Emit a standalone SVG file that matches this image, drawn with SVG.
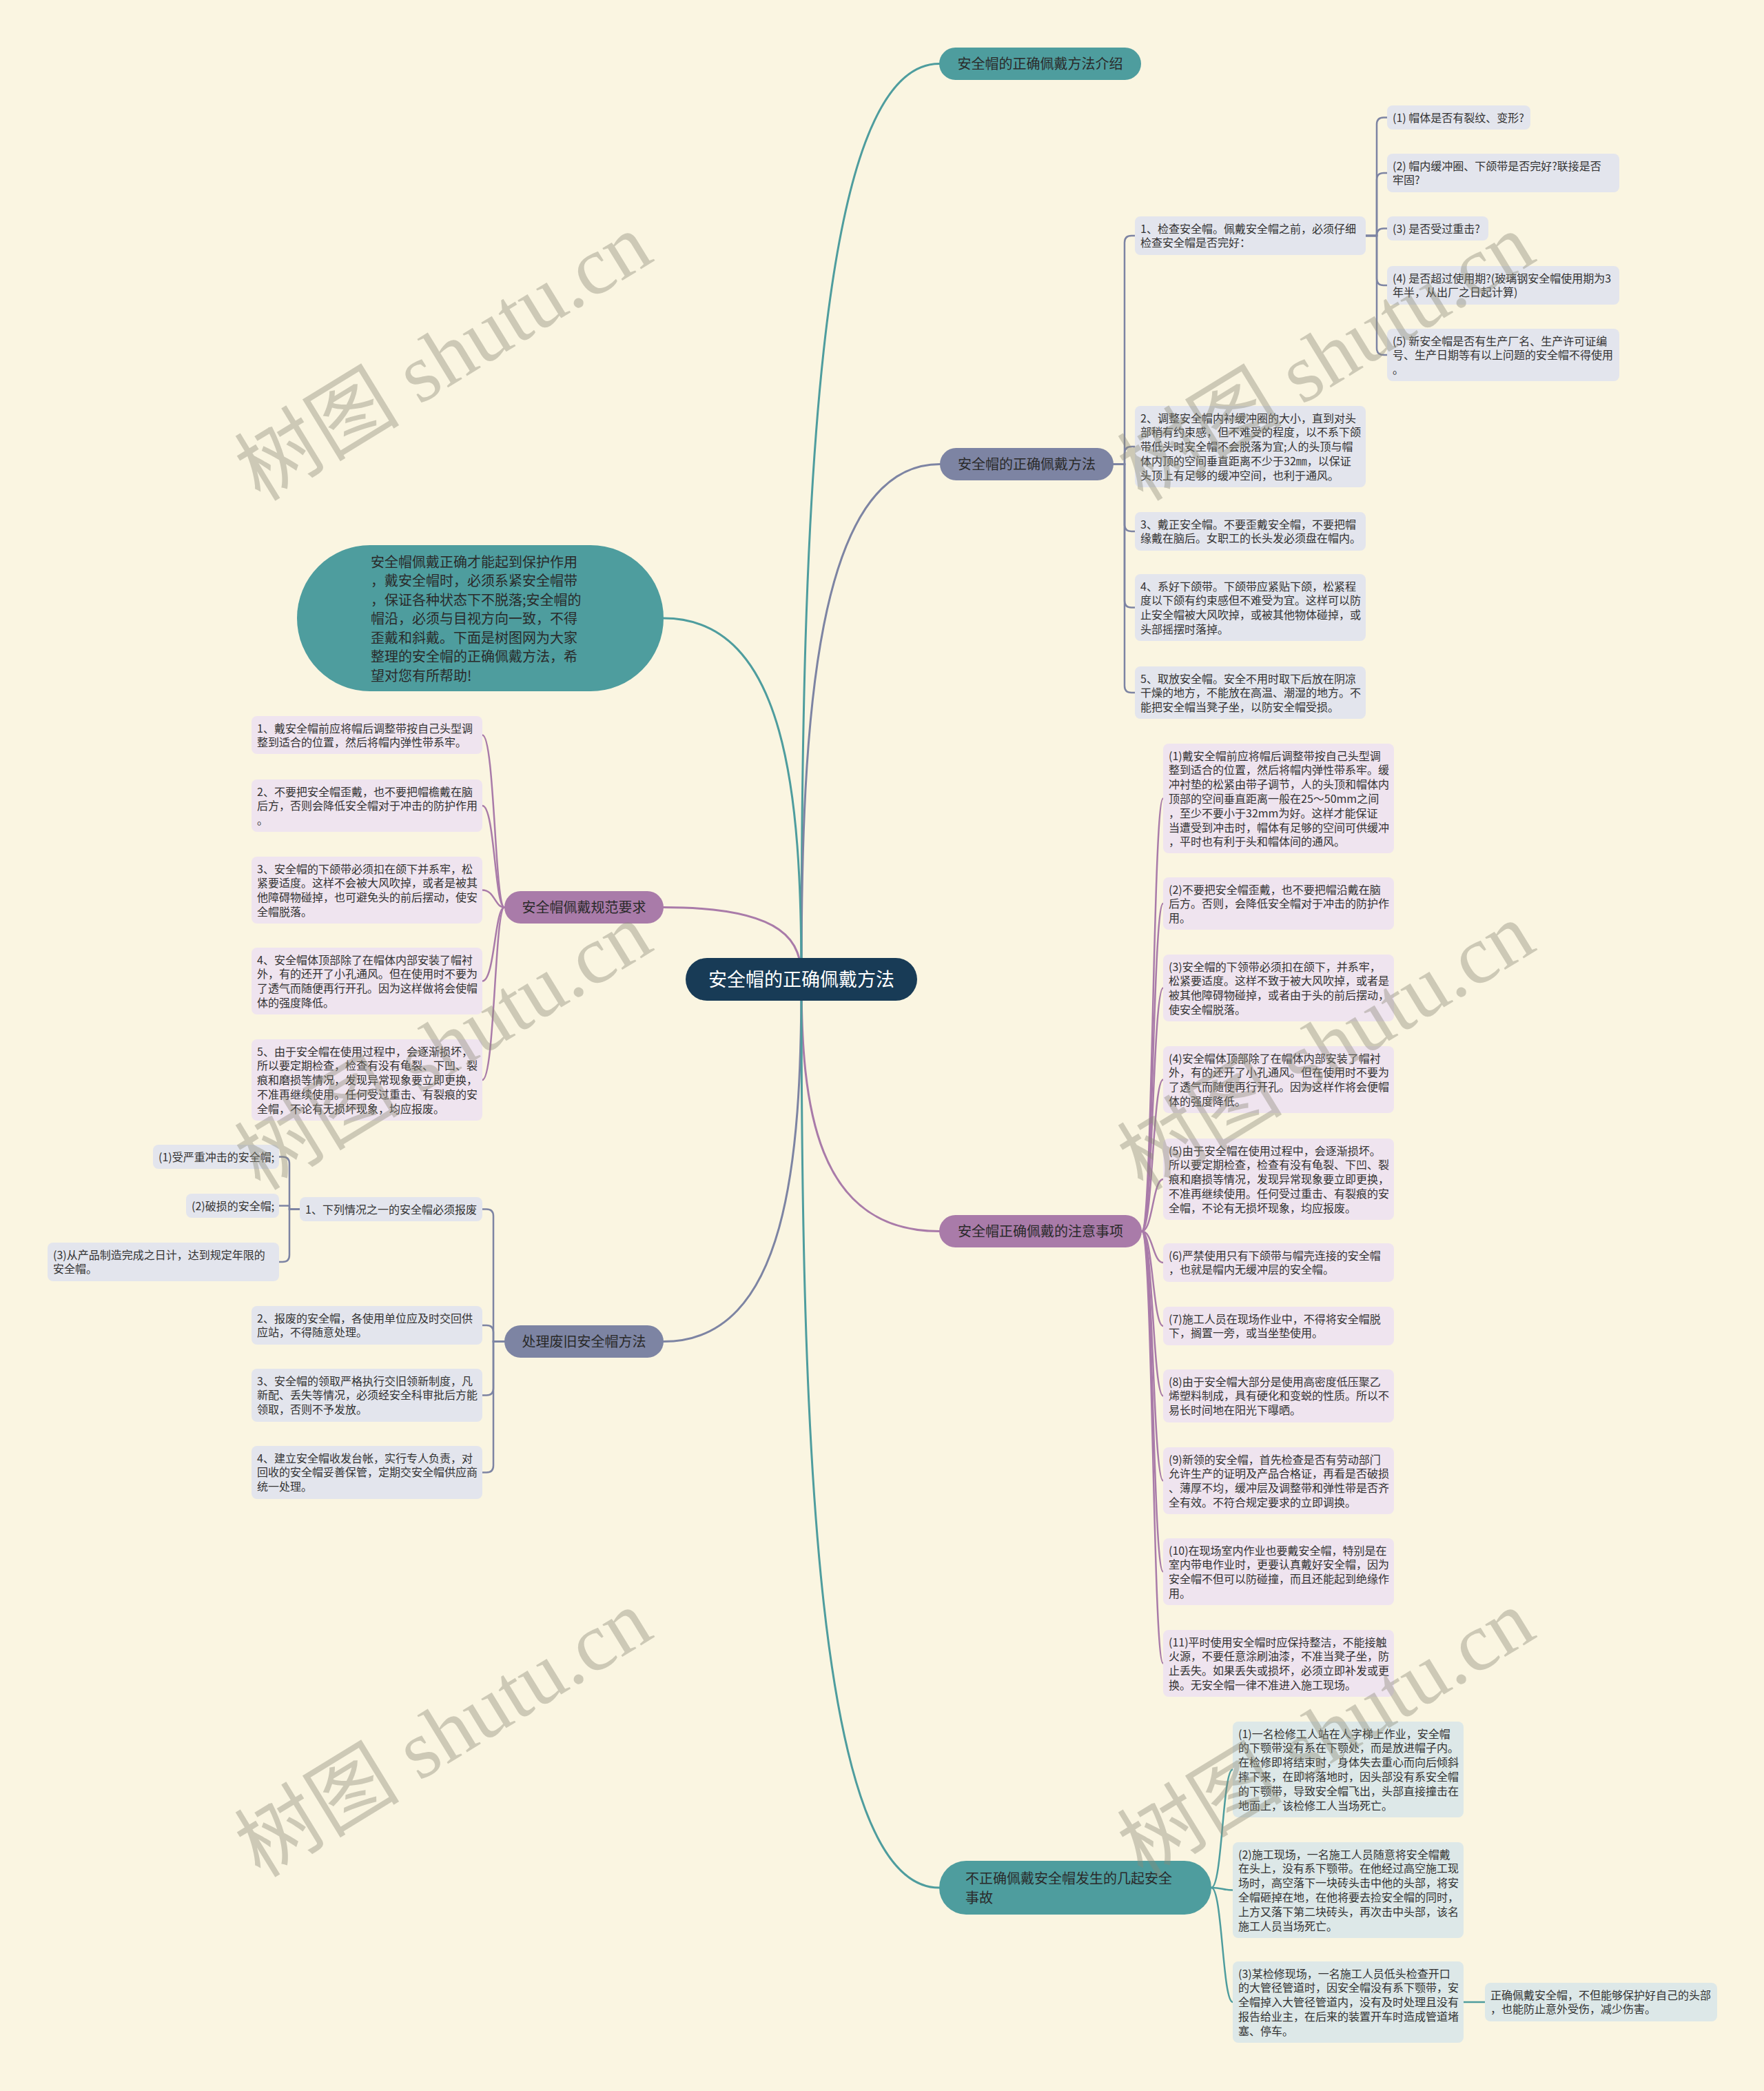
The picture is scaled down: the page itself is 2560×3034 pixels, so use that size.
<svg xmlns="http://www.w3.org/2000/svg" width="2560" height="3034" viewBox="0 0 2560 3034">
<style>
text{font-family:"Noto Sans CJK SC","Noto Sans",sans-serif;fill:#333;}
.t{font-size:16px;}
.tb{font-size:20px;fill:#2a2a2a;}
.tc{font-size:27px;fill:#fff;}
.n-te{fill:#4e9d9e;}
.n-gb{fill:#7d84a3;}
.n-pu{fill:#a97ba9;}
.c-te{fill:#dde8e8;}
.c-gb{fill:#e3e5ed;}
.c-pu{fill:#efe4ef;}
.l{fill:none;stroke-width:2.5;stroke-linecap:round;}
.lm{fill:none;stroke-width:3;stroke-linecap:round;}
.s-te{stroke:#4e9d9e;}
.s-gb{stroke:#7d84a3;}
.s-pu{stroke:#a97ba9;}
.wm{font-family:"Liberation Serif","Noto Sans CJK SC",serif;font-size:120px;fill:#8c8a78;opacity:0.4;}
</style>
<rect x="0" y="0" width="2560" height="3034" fill="#faf5e1"/>

<g id="connectors">
  <!-- main -->
  <path class="lm s-te" d="M1163 1420 C1163 756 1183 92.5 1363 92.5"/>
  <path class="lm s-gb" d="M1163 1420 C1163 1047 1183 673.5 1364 673.5"/>
  <path class="lm s-te" d="M1163 1420 C1163 1158 1143 897 963 897"/>
  <path class="lm s-pu" d="M1163 1420 C1163 1368 1143 1316.5 963 1316.5"/>
  <path class="lm s-pu" d="M1163 1420 C1163 1603 1183 1786.5 1363 1786.5"/>
  <path class="lm s-gb" d="M1163 1420 C1163 1683 1143 1946.5 963 1946.5"/>
  <path class="lm s-te" d="M1163 1420 C1163 2080 1183 2739 1363 2739"/>
  <!-- branch 2 -->
  <path class="l s-gb" d="M1616 673.5 H1632 V352 Q1632 342 1642 342 H1647"/>
  <path class="l s-gb" d="M1616 673.5 H1632 V658 Q1632 648 1642 648 H1647"/>
  <path class="l s-gb" d="M1616 673.5 H1632 V761 Q1632 771 1642 771 H1647"/>
  <path class="l s-gb" d="M1616 673.5 H1632 V871.5 Q1632 881.5 1642 881.5 H1647"/>
  <path class="l s-gb" d="M1616 673.5 H1632 V995 Q1632 1005 1642 1005 H1647"/>
  <!-- sub of 1 -->
  <path class="l s-gb" d="M1982 342 H1998 V180.5 Q1998 170.5 2008 170.5 H2013"/>
  <path class="l s-gb" d="M1982 342 H1998 V261 Q1998 251 2008 251 H2013"/>
  <path class="l s-gb" d="M1982 342 H1998 V341.5 Q1998 331.5 2008 331.5 H2013"/>
  <path class="l s-gb" d="M1982 342 H1998 V404 Q1998 414 2008 414 H2013"/>
  <path class="l s-gb" d="M1982 342 H1998 V505 Q1998 515 2008 515 H2013"/>
  <!-- 规范要求 -->
  <path class="l s-pu" d="M732 1316.5 C718 1316.5 718 1066.5 700 1066.5"/>
  <path class="l s-pu" d="M732 1316.5 C718 1316.5 718 1169 700 1169"/>
  <path class="l s-pu" d="M732 1316.5 C718 1316.5 718 1291.5 700 1291.5"/>
  <path class="l s-pu" d="M732 1316.5 C718 1316.5 718 1423.5 700 1423.5"/>
  <path class="l s-pu" d="M732 1316.5 C718 1316.5 718 1567 700 1567"/>
  <!-- 注意事项 -->
  <path class="l s-pu" d="M1657 1786.5 C1673 1786.5 1673 1158.5 1688 1158.5"/>
  <path class="l s-pu" d="M1657 1786.5 C1673 1786.5 1673 1311 1688 1311"/>
  <path class="l s-pu" d="M1657 1786.5 C1673 1786.5 1673 1433.5 1688 1433.5"/>
  <path class="l s-pu" d="M1657 1786.5 C1673 1786.5 1673 1566.5 1688 1566.5"/>
  <path class="l s-pu" d="M1657 1786.5 C1673 1786.5 1673 1711 1688 1711"/>
  <path class="l s-pu" d="M1657 1786.5 C1673 1786.5 1673 1832 1688 1832"/>
  <path class="l s-pu" d="M1657 1786.5 C1673 1786.5 1673 1924 1688 1924"/>
  <path class="l s-pu" d="M1657 1786.5 C1673 1786.5 1673 2025.5 1688 2025.5"/>
  <path class="l s-pu" d="M1657 1786.5 C1673 1786.5 1673 2148.5 1688 2148.5"/>
  <path class="l s-pu" d="M1657 1786.5 C1673 1786.5 1673 2280.5 1688 2280.5"/>
  <path class="l s-pu" d="M1657 1786.5 C1673 1786.5 1673 2413.5 1688 2413.5"/>
  <!-- 处理废旧 -->
  <path class="l s-gb" d="M732 1946.5 H716 V1764.5 Q716 1754.5 706 1754.5 H700"/>
  <path class="l s-gb" d="M732 1946.5 H716 V1933 Q716 1923 706 1923 H700"/>
  <path class="l s-gb" d="M732 1946.5 H716 V2014.5 Q716 2024.5 706 2024.5 H700"/>
  <path class="l s-gb" d="M732 1946.5 H716 V2126.5 Q716 2136.5 706 2136.5 H700"/>
  <path class="l s-gb" d="M435 1754.5 H420 V1688.5 Q420 1678.5 410 1678.5 H405"/>
  <path class="l s-gb" d="M435 1754.5 H420 V1749.5 H405"/>
  <path class="l s-gb" d="M435 1754.5 H420 V1821 Q420 1831 410 1831 H405"/>
  <!-- 不正确 -->
  <path class="l s-te" d="M1758 2739 C1774 2739 1774 2567.5 1789 2567.5"/>
  <path class="l s-te" d="M1758 2739 C1774 2739 1774 2742.5 1789 2742.5"/>
  <path class="l s-te" d="M1758 2739 C1774 2739 1774 2905 1789 2905"/>
  <path class="l s-te" d="M2124 2905 H2155"/>
</g>

<g id="central">
  <rect x="995" y="1390" width="336" height="62" rx="31" fill="#183b56"/>
  <text class="tc" x="1163" y="1431" text-anchor="middle">安全帽的正确佩戴方法</text>
</g>

<g id="b1">
  <rect class="n-te" x="1363" y="69" width="293" height="47" rx="23.5"/>
  <text class="tb" x="1509.5" y="100" text-anchor="middle">安全帽的正确佩戴方法介绍</text>
</g>

<g id="intro">
  <rect class="n-te" x="431" y="791" width="532" height="212" rx="106"/>
  <text class="tb">
    <tspan x="538" y="822.6">安全帽佩戴正确才能起到保护作用</tspan>
    <tspan x="538" y="850.1">，戴安全帽时，必须系紧安全帽带</tspan>
    <tspan x="538" y="877.6">，保证各种状态下不脱落;安全帽的</tspan>
    <tspan x="538" y="905.1">帽沿，必须与目视方向一致，不得</tspan>
    <tspan x="538" y="932.6">歪戴和斜戴。下面是树图网为大家</tspan>
    <tspan x="538" y="960.1">整理的安全帽的正确佩戴方法，希</tspan>
    <tspan x="538" y="987.6">望对您有所帮助!</tspan>
  </text>
</g>

<g id="b2">
  <rect class="n-gb" x="1364" y="650" width="252" height="47" rx="23.5"/>
  <text class="tb" x="1490" y="681" text-anchor="middle">安全帽的正确佩戴方法</text>
</g>
<g id="b2-1">
  <rect class="c-gb" x="1647" y="314" width="335" height="56" rx="8"/>
  <text class="t"><tspan x="1655" y="337.5">1、检查安全帽。佩戴安全帽之前，必须仔细</tspan><tspan x="1655" y="358.3">检查安全帽是否完好：</tspan></text>
</g>
<g id="b2-1-1">
  <rect class="c-gb" x="2013" y="153" width="208" height="35" rx="8"/>
  <text class="t" x="2021" y="176.5">(1) 帽体是否有裂纹、变形?</text>
</g>
<g id="b2-1-2">
  <rect class="c-gb" x="2013" y="223" width="337" height="56" rx="8"/>
  <text class="t"><tspan x="2021" y="246.5">(2) 帽内缓冲圈、下颌带是否完好?联接是否</tspan><tspan x="2021" y="267.3">牢固?</tspan></text>
</g>
<g id="b2-1-3">
  <rect class="c-gb" x="2013" y="314" width="147" height="35" rx="8"/>
  <text class="t" x="2021" y="337.5">(3) 是否受过重击?</text>
</g>
<g id="b2-1-4">
  <rect class="c-gb" x="2013" y="386" width="337" height="56" rx="8"/>
  <text class="t"><tspan x="2021" y="409.5">(4) 是否超过使用期?(玻璃钢安全帽使用期为3</tspan><tspan x="2021" y="430.3">年半，从出厂之日起计算)</tspan></text>
</g>
<g id="b2-1-5">
  <rect class="c-gb" x="2013" y="477" width="337" height="76" rx="8"/>
  <text class="t"><tspan x="2021" y="500.5">(5) 新安全帽是否有生产厂名、生产许可证编</tspan><tspan x="2021" y="521.3">号、生产日期等有以上问题的安全帽不得使用</tspan><tspan x="2021" y="542.1">。</tspan></text>
</g>
<g id="b2-2">
  <rect class="c-gb" x="1647" y="589" width="335" height="118" rx="8"/>
  <text class="t"><tspan x="1655" y="612.5">2、调整安全帽内衬缓冲圈的大小，直到对头</tspan><tspan x="1655" y="633.3">部稍有约束感，但不难受的程度，以不系下颌</tspan><tspan x="1655" y="654.1">带低头时安全帽不会脱落为宜;人的头顶与帽</tspan><tspan x="1655" y="674.9">体内顶的空间垂直距离不少于32㎜，以保证</tspan><tspan x="1655" y="695.7">头顶上有足够的缓冲空间，也利于通风。</tspan></text>
</g>
<g id="b2-3">
  <rect class="c-gb" x="1647" y="743" width="335" height="56" rx="8"/>
  <text class="t"><tspan x="1655" y="766.5">3、戴正安全帽。不要歪戴安全帽，不要把帽</tspan><tspan x="1655" y="787.3">缘戴在脑后。女职工的长头发必须盘在帽内。</tspan></text>
</g>
<g id="b2-4">
  <rect class="c-gb" x="1647" y="833" width="335" height="97" rx="8"/>
  <text class="t"><tspan x="1655" y="856.5">4、系好下颌带。下颌带应紧贴下颌，松紧程</tspan><tspan x="1655" y="877.3">度以下颌有约束感但不难受为宜。这样可以防</tspan><tspan x="1655" y="898.1">止安全帽被大风吹掉，或被其他物体碰掉，或</tspan><tspan x="1655" y="918.9">头部摇摆时落掉。</tspan></text>
</g>
<g id="b2-5">
  <rect class="c-gb" x="1647" y="967" width="335" height="76" rx="8"/>
  <text class="t"><tspan x="1655" y="990.5">5、取放安全帽。安全不用时取下后放在阴凉</tspan><tspan x="1655" y="1011.3">干燥的地方，不能放在高温、潮湿的地方。不</tspan><tspan x="1655" y="1032.1">能把安全帽当凳子坐，以防安全帽受损。</tspan></text>
</g>

<g id="b3">
  <rect class="n-pu" x="732" y="1293" width="231" height="47" rx="23.5"/>
  <text class="tb" x="847.5" y="1324" text-anchor="middle">安全帽佩戴规范要求</text>
</g>
<g id="b3-1">
  <rect class="c-pu" x="365" y="1039" width="335" height="55" rx="8"/>
  <text class="t"><tspan x="373" y="1062.5">1、戴安全帽前应将帽后调整带按自己头型调</tspan><tspan x="373" y="1083.3">整到适合的位置，然后将帽内弹性带系牢。</tspan></text>
</g>
<g id="b3-2">
  <rect class="c-pu" x="365" y="1131" width="335" height="76" rx="8"/>
  <text class="t"><tspan x="373" y="1154.5">2、不要把安全帽歪戴，也不要把帽檐戴在脑</tspan><tspan x="373" y="1175.3">后方，否则会降低安全帽对于冲击的防护作用</tspan><tspan x="373" y="1196.1">。</tspan></text>
</g>
<g id="b3-3">
  <rect class="c-pu" x="365" y="1243" width="335" height="97" rx="8"/>
  <text class="t"><tspan x="373" y="1266.5">3、安全帽的下颌带必须扣在颌下并系牢，松</tspan><tspan x="373" y="1287.3">紧要适度。这样不会被大风吹掉，或者是被其</tspan><tspan x="373" y="1308.1">他障碍物碰掉，也可避免头的前后摆动，使安</tspan><tspan x="373" y="1328.9">全帽脱落。</tspan></text>
</g>
<g id="b3-4">
  <rect class="c-pu" x="365" y="1375" width="335" height="97" rx="8"/>
  <text class="t"><tspan x="373" y="1398.5">4、安全帽体顶部除了在帽体内部安装了帽衬</tspan><tspan x="373" y="1419.3">外，有的还开了小孔通风。但在使用时不要为</tspan><tspan x="373" y="1440.1">了透气而随便再行开孔。因为这样做将会使帽</tspan><tspan x="373" y="1460.9">体的强度降低。</tspan></text>
</g>
<g id="b3-5">
  <rect class="c-pu" x="365" y="1508" width="335" height="118" rx="8"/>
  <text class="t"><tspan x="373" y="1531.5">5、由于安全帽在使用过程中，会逐渐损坏，</tspan><tspan x="373" y="1552.3">所以要定期检查，检查有没有龟裂、下凹、裂</tspan><tspan x="373" y="1573.1">痕和磨损等情况，发现异常现象要立即更换，</tspan><tspan x="373" y="1593.9">不准再继续使用。任何受过重击、有裂痕的安</tspan><tspan x="373" y="1614.7">全帽，不论有无损坏现象，均应报废。</tspan></text>
</g>

<g id="b4">
  <rect class="n-pu" x="1363" y="1763" width="294" height="47" rx="23.5"/>
  <text class="tb" x="1510" y="1794" text-anchor="middle">安全帽正确佩戴的注意事项</text>
</g>
<g id="b4-1">
  <rect class="c-pu" x="1688" y="1079" width="335" height="159" rx="8"/>
  <text class="t"><tspan x="1696" y="1102.5">(1)戴安全帽前应将帽后调整带按自己头型调</tspan><tspan x="1696" y="1123.3">整到适合的位置，然后将帽内弹性带系牢。缓</tspan><tspan x="1696" y="1144.1">冲衬垫的松紧由带子调节，人的头顶和帽体内</tspan><tspan x="1696" y="1164.9">顶部的空间垂直距离一般在25～50mm之间</tspan><tspan x="1696" y="1185.7">，至少不要小于32mm为好。这样才能保证</tspan><tspan x="1696" y="1206.5">当遭受到冲击时，帽体有足够的空间可供缓冲</tspan><tspan x="1696" y="1227.3">，平时也有利于头和帽体间的通风。</tspan></text>
</g>
<g id="b4-2">
  <rect class="c-pu" x="1688" y="1273" width="335" height="76" rx="8"/>
  <text class="t"><tspan x="1696" y="1296.5">(2)不要把安全帽歪戴，也不要把帽沿戴在脑</tspan><tspan x="1696" y="1317.3">后方。否则，会降低安全帽对于冲击的防护作</tspan><tspan x="1696" y="1338.1">用。</tspan></text>
</g>
<g id="b4-3">
  <rect class="c-pu" x="1688" y="1385" width="335" height="97" rx="8"/>
  <text class="t"><tspan x="1696" y="1408.5">(3)安全帽的下领带必须扣在颌下，并系牢，</tspan><tspan x="1696" y="1429.3">松紧要适度。这样不致于被大风吹掉，或者是</tspan><tspan x="1696" y="1450.1">被其他障碍物碰掉，或者由于头的前后摆动，</tspan><tspan x="1696" y="1470.9">使安全帽脱落。</tspan></text>
</g>
<g id="b4-4">
  <rect class="c-pu" x="1688" y="1518" width="335" height="97" rx="8"/>
  <text class="t"><tspan x="1696" y="1541.5">(4)安全帽体顶部除了在帽体内部安装了帽衬</tspan><tspan x="1696" y="1562.3">外，有的还开了小孔通风。但在使用时不要为</tspan><tspan x="1696" y="1583.1">了透气而随便再行开孔。因为这样作将会便帽</tspan><tspan x="1696" y="1603.9">体的强度降低。</tspan></text>
</g>
<g id="b4-5">
  <rect class="c-pu" x="1688" y="1652" width="335" height="118" rx="8"/>
  <text class="t"><tspan x="1696" y="1675.5">(5)由于安全帽在使用过程中，会逐渐损坏。</tspan><tspan x="1696" y="1696.3">所以要定期检查，检查有没有龟裂、下凹、裂</tspan><tspan x="1696" y="1717.1">痕和磨损等情况，发现异常现象要立即更换，</tspan><tspan x="1696" y="1737.9">不准再继续使用。任何受过重击、有裂痕的安</tspan><tspan x="1696" y="1758.7">全帽，不论有无损坏现象，均应报废。</tspan></text>
</g>
<g id="b4-6">
  <rect class="c-pu" x="1688" y="1804" width="335" height="56" rx="8"/>
  <text class="t"><tspan x="1696" y="1827.5">(6)严禁使用只有下颌带与帽壳连接的安全帽</tspan><tspan x="1696" y="1848.3">，也就是帽内无缓冲层的安全帽。</tspan></text>
</g>
<g id="b4-7">
  <rect class="c-pu" x="1688" y="1896" width="335" height="56" rx="8"/>
  <text class="t"><tspan x="1696" y="1919.5">(7)施工人员在现场作业中，不得将安全帽脱</tspan><tspan x="1696" y="1940.3">下，搁置一旁，或当坐垫使用。</tspan></text>
</g>
<g id="b4-8">
  <rect class="c-pu" x="1688" y="1987" width="335" height="77" rx="8"/>
  <text class="t"><tspan x="1696" y="2010.5">(8)由于安全帽大部分是使用高密度低压聚乙</tspan><tspan x="1696" y="2031.3">烯塑料制成，具有硬化和变蜕的性质。所以不</tspan><tspan x="1696" y="2052.1">易长时间地在阳光下曝晒。</tspan></text>
</g>
<g id="b4-9">
  <rect class="c-pu" x="1688" y="2100" width="335" height="97" rx="8"/>
  <text class="t"><tspan x="1696" y="2123.5">(9)新领的安全帽，首先检查是否有劳动部门</tspan><tspan x="1696" y="2144.3">允许生产的证明及产品合格证，再看是否破损</tspan><tspan x="1696" y="2165.1">、薄厚不均，缓冲层及调整带和弹性带是否齐</tspan><tspan x="1696" y="2185.9">全有效。不符合规定要求的立即调换。</tspan></text>
</g>
<g id="b4-10">
  <rect class="c-pu" x="1688" y="2232" width="335" height="97" rx="8"/>
  <text class="t"><tspan x="1696" y="2255.5">(10)在现场室内作业也要戴安全帽，特别是在</tspan><tspan x="1696" y="2276.3">室内带电作业时，更要认真戴好安全帽，因为</tspan><tspan x="1696" y="2297.1">安全帽不但可以防碰撞，而且还能起到绝缘作</tspan><tspan x="1696" y="2317.9">用。</tspan></text>
</g>
<g id="b4-11">
  <rect class="c-pu" x="1688" y="2365" width="335" height="97" rx="8"/>
  <text class="t"><tspan x="1696" y="2388.5">(11)平时使用安全帽时应保持整洁，不能接触</tspan><tspan x="1696" y="2409.3">火源，不要任意涂刷油漆，不准当凳子坐，防</tspan><tspan x="1696" y="2430.1">止丢失。如果丢失或损坏，必须立即补发或更</tspan><tspan x="1696" y="2450.9">换。无安全帽一律不准进入施工现场。</tspan></text>
</g>

<g id="b5">
  <rect class="n-gb" x="732" y="1923" width="231" height="47" rx="23.5"/>
  <text class="tb" x="847.5" y="1954" text-anchor="middle">处理废旧安全帽方法</text>
</g>
<g id="b5-1">
  <rect class="c-gb" x="435" y="1737" width="265" height="35" rx="8"/>
  <text class="t" x="443" y="1760.5">1、下列情况之一的安全帽必须报废</text>
</g>
<g id="b5-1-1">
  <rect class="c-gb" x="222" y="1661" width="183" height="35" rx="8"/>
  <text class="t" x="230" y="1684.5">(1)受严重冲击的安全帽;</text>
</g>
<g id="b5-1-2">
  <rect class="c-gb" x="270" y="1732" width="135" height="35" rx="8"/>
  <text class="t" x="278" y="1755.5">(2)破损的安全帽;</text>
</g>
<g id="b5-1-3">
  <rect class="c-gb" x="69" y="1803" width="336" height="56" rx="8"/>
  <text class="t"><tspan x="77" y="1826.5">(3)从产品制造完成之日计，达到规定年限的</tspan><tspan x="77" y="1847.3">安全帽。</tspan></text>
</g>
<g id="b5-2">
  <rect class="c-gb" x="365" y="1895" width="335" height="56" rx="8"/>
  <text class="t"><tspan x="373" y="1918.5">2、报废的安全帽，各使用单位应及时交回供</tspan><tspan x="373" y="1939.3">应站，不得随意处理。</tspan></text>
</g>
<g id="b5-3">
  <rect class="c-gb" x="365" y="1986" width="335" height="77" rx="8"/>
  <text class="t"><tspan x="373" y="2009.5">3、安全帽的领取严格执行交旧领新制度，凡</tspan><tspan x="373" y="2030.3">新配、丢失等情况，必须经安全科审批后方能</tspan><tspan x="373" y="2051.1">领取，否则不予发放。</tspan></text>
</g>
<g id="b5-4">
  <rect class="c-gb" x="365" y="2098" width="335" height="77" rx="8"/>
  <text class="t"><tspan x="373" y="2121.5">4、建立安全帽收发台帐，实行专人负责，对</tspan><tspan x="373" y="2142.3">回收的安全帽妥善保管，定期交安全帽供应商</tspan><tspan x="373" y="2163.1">统一处理。</tspan></text>
</g>

<g id="b6">
  <rect class="n-te" x="1363" y="2700" width="395" height="78" rx="39"/>
  <text class="tb"><tspan x="1401" y="2732.6">不正确佩戴安全帽发生的几起安全</tspan><tspan x="1401" y="2760.6">事故</tspan></text>
</g>
<g id="b6-1">
  <rect class="c-te" x="1789" y="2498" width="335" height="139" rx="8"/>
  <text class="t"><tspan x="1797" y="2521.5">(1)一名检修工人站在人字梯上作业，安全帽</tspan><tspan x="1797" y="2542.3">的下颚带没有系在下颚处，而是放进帽子内。</tspan><tspan x="1797" y="2563.1">在检修即将结束时，身体失去重心而向后倾斜</tspan><tspan x="1797" y="2583.9">摔下来，在即将落地时，因头部没有系安全帽</tspan><tspan x="1797" y="2604.7">的下颚带，导致安全帽飞出，头部直接撞击在</tspan><tspan x="1797" y="2625.5">地面上，该检修工人当场死亡。</tspan></text>
</g>
<g id="b6-2">
  <rect class="c-te" x="1789" y="2673" width="335" height="139" rx="8"/>
  <text class="t"><tspan x="1797" y="2696.5">(2)施工现场，一名施工人员随意将安全帽戴</tspan><tspan x="1797" y="2717.3">在头上，没有系下颚带。在他经过高空施工现</tspan><tspan x="1797" y="2738.1">场时，高空落下一块砖头击中他的头部，将安</tspan><tspan x="1797" y="2758.9">全帽砸掉在地，在他将要去捡安全帽的同时，</tspan><tspan x="1797" y="2779.7">上方又落下第二块砖头，再次击中头部，该名</tspan><tspan x="1797" y="2800.5">施工人员当场死亡。</tspan></text>
</g>
<g id="b6-3">
  <rect class="c-te" x="1789" y="2846" width="335" height="118" rx="8"/>
  <text class="t"><tspan x="1797" y="2869.5">(3)某检修现场，一名施工人员低头检查开口</tspan><tspan x="1797" y="2890.3">的大管径管道时，因安全帽没有系下颚带，安</tspan><tspan x="1797" y="2911.1">全帽掉入大管径管道内，没有及时处理且没有</tspan><tspan x="1797" y="2931.9">报告给业主，在后来的装置开车时造成管道堵</tspan><tspan x="1797" y="2952.7">塞、停车。</tspan></text>
</g>
<g id="b6-3-1">
  <rect class="c-te" x="2155" y="2877" width="337" height="56" rx="8"/>
  <text class="t"><tspan x="2163" y="2900.5">正确佩戴安全帽，不但能够保护好自己的头部</tspan><tspan x="2163" y="2921.3">，也能防止意外受伤，减少伤害。</tspan></text>
</g>

<g id="watermarks">
  <text class="wm" text-anchor="middle" transform="translate(644,519) rotate(-31.5)" y="40">树图 shutu.cn</text>
  <text class="wm" text-anchor="middle" transform="translate(1925,519) rotate(-31.5)" y="40">树图 shutu.cn</text>
  <text class="wm" text-anchor="middle" transform="translate(644,1519) rotate(-31.5)" y="40">树图 shutu.cn</text>
  <text class="wm" text-anchor="middle" transform="translate(1925,1519) rotate(-31.5)" y="40">树图 shutu.cn</text>
  <text class="wm" text-anchor="middle" transform="translate(644,2516) rotate(-31.5)" y="40">树图 shutu.cn</text>
  <text class="wm" text-anchor="middle" transform="translate(1925,2516) rotate(-31.5)" y="40">树图 shutu.cn</text>
</g>
</svg>
